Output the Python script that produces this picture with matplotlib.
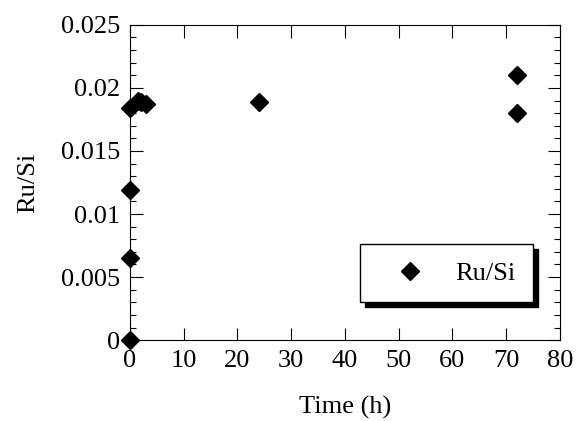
import matplotlib
matplotlib.use("Agg")
import matplotlib.pyplot as plt
from matplotlib.ticker import MultipleLocator

time_h = [0, 0, 0, 0, 1.5, 2, 3, 24, 72, 72]
ru_si = [0.0, 0.0065, 0.0119, 0.0184, 0.0190, 0.0189, 0.0187, 0.0189, 0.0210, 0.0180]
xticks = [0, 10, 20, 30, 40, 50, 60, 70, 80]
yticks = [0, 0.005, 0.01, 0.015, 0.02, 0.025]
ytick_labels = ["0", "0.005", "0.01", "0.015", "0.02", "0.025"]

plt.rcParams['font.family'] = ['Liberation Serif', 'DejaVu Serif']

fig = plt.figure(figsize=(5.88, 4.21), dpi=100)
ax = fig.add_axes([0.221, 0.192, 0.731, 0.749])

ax.plot(time_h, ru_si, linestyle='none', marker='D', markersize=9.5,
        color='black', clip_on=False, label='Ru/Si')

ax.set_xlim(0, 80)
ax.set_ylim(0, 0.025)
ax.set_xticks(xticks)
ax.set_xticklabels([str(t) for t in xticks])
ax.set_yticks(yticks)
ax.set_yticklabels(ytick_labels)
ax.yaxis.set_minor_locator(MultipleLocator(0.001))

ax.tick_params(which='both', direction='in', top=True, right=True,
               labelsize=19, width=0.8)
ax.tick_params(which='major', length=9, pad=7)
ax.tick_params(which='minor', length=4.5)
for s in ax.spines.values():
    s.set_linewidth(0.8)

ax.set_xlabel('Time (h)', fontsize=19, labelpad=17)
ax.set_ylabel('Ru/Si', fontsize=19, labelpad=16)

leg = ax.legend(loc='lower right', bbox_to_anchor=(0.937, 0.121), frameon=True,
                fancybox=False,
                shadow={'ox': 3.6, 'oy': -3.6, 'color': 'black', 'alpha': 1},
                fontsize=19, borderpad=0.65, handletextpad=0.45, borderaxespad=0,
                markerscale=1.0, handlelength=2.5)
leg.get_frame().set_edgecolor('black')
leg.get_frame().set_linewidth(1.0)
leg.get_frame().set_alpha(1)

fig.savefig('out.png', dpi=100)
